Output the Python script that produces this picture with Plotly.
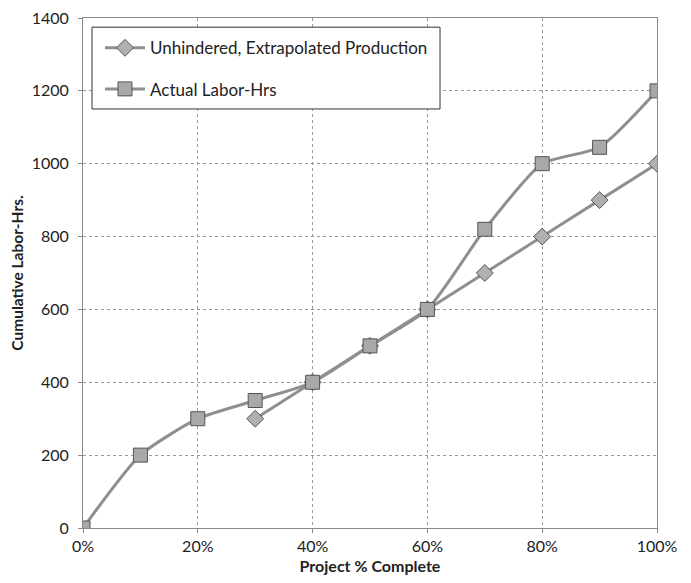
import plotly.graph_objects as go

pct = [0, 10, 20, 30, 40, 50, 60, 70, 80, 90, 100]
unhindered_x = [30, 40, 50, 60, 70, 80, 90, 100]
unhindered_y = [300, 400, 500, 600, 700, 800, 900, 1000]
actual_y = [0, 200, 300, 350, 400, 500, 600, 820, 1000, 1045, 1200]

x_ticks = [0, 20, 40, 60, 80, 100]
x_tick_text = ["0%", "20%", "40%", "60%", "80%", "100%"]
y_ticks = [0, 200, 400, 600, 800, 1000, 1200, 1400]

font = "Lato, 'Open Sans', sans-serif"

fig = go.Figure()
fig.add_trace(go.Scatter(
    x=unhindered_x, y=unhindered_y, name="Unhindered, Extrapolated Production",
    legendgroup="a",
    mode="lines+markers", line=dict(color="#8f8f8f", width=3, shape="spline", smoothing=0.6),
    marker=dict(symbol="diamond", size=13, color="#b0b0b0", line=dict(color="#555555", width=1)),
))
fig.add_trace(go.Scatter(
    x=pct, y=actual_y, name="Actual Labor-Hrs",
    legendgroup="b",
    mode="lines+markers", line=dict(color="#8f8f8f", width=3, shape="spline", smoothing=0.6),
    marker=dict(symbol="square", size=14, color="#a8a8a8", line=dict(color="#555555", width=1)),
))

# legend frame (drawn as a shape so it can be wider than the text)
fig.add_shape(type="rect", xref="x domain", yref="y domain",
              x0=0.0157, x1=0.622, y0=0.8216, y1=0.982,
              fillcolor="white", line=dict(color="#333333", width=1), layer="above")

fig.update_layout(
    width=683, height=575,
    margin=dict(l=75, r=34, t=10, b=55),
    paper_bgcolor="white", plot_bgcolor="white",
    font=dict(family=font, size=16, color="#222222"),
    showlegend=True,
    legend=dict(x=0.0296, y=0.976, xanchor="left", yanchor="top",
                bgcolor="rgba(0,0,0,0)", borderwidth=0,
                font=dict(size=17), tracegroupgap=16, itemwidth=40),
    xaxis=dict(range=[0, 100], tickvals=x_ticks, ticktext=x_tick_text, automargin=False,
               showgrid=True, gridcolor="#9a9a9a", griddash="dot", gridwidth=1,
               showline=True, linecolor="#8a8a8a", mirror=True, zeroline=False,
               ticks="outside", ticklen=4, tickcolor="#8a8a8a", ticklabeloverflow="allow",
               title=dict(text="<b>Project % Complete</b>", standoff=6, font=dict(size=16))),
    yaxis=dict(range=[0, 1400], tickvals=y_ticks, automargin=False,
               showgrid=True, gridcolor="#9a9a9a", griddash="dot", gridwidth=1,
               showline=True, linecolor="#8a8a8a", mirror=True, zeroline=False,
               ticks="outside", ticklen=4, tickcolor="#8a8a8a", ticklabelstandoff=6,
               ticklabeloverflow="allow",
               title=dict(text="<b>Cumulative Labor-Hrs.</b>", standoff=8, font=dict(size=15.5))),
)

fig.write_html("out.html")
